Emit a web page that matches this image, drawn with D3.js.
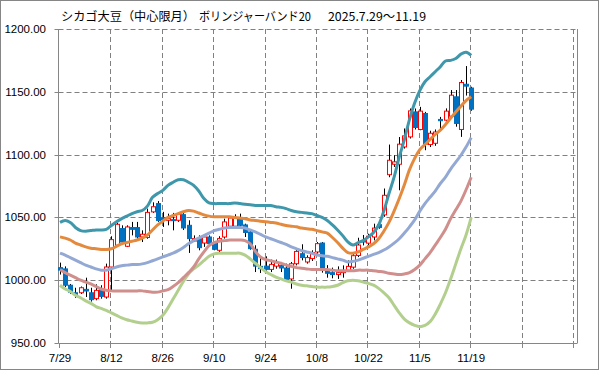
<!DOCTYPE html>
<meta charset="utf-8">
<script src="https://d3js.org/d3.v7.min.js"></script>
<style>
body { margin: 0; background: #fff; }
text { font-family: "Liberation Sans", Arial, sans-serif; fill: #000; }
.title { font-family: "Noto Sans CJK JP", sans-serif; font-size: 12px; }
.grid { stroke: #808080; stroke-dasharray: 5,3; stroke-width: 1; }
</style>
<body>
<svg id="chart" width="599" height="370"></svg>
<script>
// tick labels every 10 trading days (last two gridlines unlabeled)
var tickLabels = ["7/29", "8/12", "8/26", "9/10", "9/24", "10/8", "10/22", "11/5", "11/19", "", ""];
var yTicks = [950, 1000, 1050, 1100, 1150, 1200];

// daily prices, 7/29 .. 11/19 (81 sessions)
var priceOpen = [1010, 1009, 996, 990, 990, 992.7, 990, 985.3, 992.7, 986.6,
  1010.5, 1027.8, 1041.1, 1027, 1041.9, 1041.9, 1034.4, 1034, 1054.4, 1061,
  1049.8, 1047.7, 1048.2, 1047.7, 1052.2, 1043.7, 1031.2, 1033.1, 1029.6, 1034.4,
  1029.1, 1023.8, 1034.4, 1043, 1043, 1049.6, 1044, 1038.4, 1024.6, 1011,
  1011.2, 1008.6, 1011.2, 1011.8, 1009.7, 1001, 1013.1, 1021.1, 1014.5, 1017.2,
  1022.5, 1029.6, 1007, 1006, 1004.5, 1006, 1007.8, 1010.4, 1019.7, 1031.7,
  1029.5, 1034.4, 1044.2, 1052, 1084, 1092.3, 1092.3, 1106.1, 1114.1, 1134,
  1120, 1132.7, 1108, 1109, 1128, 1127.4, 1130.6, 1146, 1120, 1156, 1153];
var priceHigh = [1014, 1011, 997, 994, 995, 1002, 994, 996.7, 996, 1013.2,
  1035, 1045.6, 1043.7, 1043.7, 1046.4, 1046.4, 1039.7, 1057, 1062, 1063,
  1054.4, 1053, 1053.6, 1053.6, 1053.6, 1047.7, 1035.7, 1035.7, 1035.7, 1035.7,
  1031.2, 1035, 1049, 1051, 1052.5, 1053, 1045, 1039.7, 1027.8, 1019,
  1019, 1016.4, 1016.4, 1014.5, 1013.2, 1014.5, 1024.3, 1028.6, 1019.8, 1023.8,
  1030.4, 1030.4, 1012, 1010, 1011, 1011.8, 1015.8, 1022.4, 1033.8, 1036,
  1037, 1045, 1045.5, 1073, 1108, 1099.5, 1114, 1120.8, 1136.7, 1136.7,
  1138, 1134, 1119, 1120, 1130, 1136.8, 1151.4, 1151.4, 1159.4, 1170.5, 1154];
var priceLow = [1004.5, 994.5, 989, 986, 989, 986.6, 983, 984, 985.3, 985.3,
  992, 1027, 1029, 1026.4, 1035.7, 1033.1, 1030.4, 1033, 1053.6, 1046.4,
  1042.4, 1043.7, 1039.7, 1046.4, 1040, 1021.7, 1030.4, 1023.8, 1026.5, 1027.8,
  1023.8, 1022.5, 1033.1, 1041.9, 1041.9, 1041.9, 1034.4, 1024.3, 1006.5, 1005.7,
  1006.5, 1006.5, 1009.2, 1006.5, 999.9, 993.2, 1011.8, 1015.8, 1013.2, 1015.3,
  1021.1, 1006, 1002, 1001.5, 1001, 1002, 1006.5, 1009.1, 1018.4, 1027.7,
  1027.7, 1031.7, 1041, 1050.5, 1082, 1090.2, 1071.6, 1104.8, 1112.8, 1120,
  1119.4, 1103.5, 1106, 1107, 1119.5, 1126.2, 1130, 1122.2, 1114.1, 1147, 1134.9];
var priceClose = [1008, 996, 990.5, 988.7, 994, 991.4, 984.5, 991.9, 987.1, 1010.5,
  1032.3, 1044.5, 1030.4, 1042.4, 1040.5, 1034.4, 1036.6, 1054, 1058.5, 1047.5,
  1048.2, 1049, 1047.7, 1052.5, 1041.6, 1033.1, 1033.1, 1025.9, 1034.4, 1029.1,
  1024.6, 1033.1, 1046.4, 1049.5, 1049.8, 1043.7, 1038, 1025.1, 1011.2, 1009.2,
  1008.6, 1012.6, 1013.9, 1009.7, 1000.6, 1013.1, 1022.9, 1018, 1018, 1022,
  1029.1, 1008, 1005.5, 1004.5, 1006, 1007, 1011, 1019.5, 1028, 1030.4,
  1035, 1041.5, 1042, 1067.6, 1095.5, 1094.2, 1108.3, 1114.9, 1134.8, 1121.6,
  1134.6, 1108.3, 1117, 1118, 1127, 1134.6, 1147.3, 1124.8, 1157.4, 1154.5, 1136.2];

// bollinger band lines
var bandUpper2 = [1046, 1047.5, 1046, 1042, 1039.5, 1039, 1039.5, 1040, 1040, 1040.5,
  1043.5, 1046.5, 1049, 1051, 1053, 1054.5, 1055.5, 1059, 1066, 1069,
  1071.5, 1075.5, 1078, 1080, 1080, 1078, 1075.5, 1071, 1065, 1061.5,
  1061, 1061, 1061, 1061, 1061.5, 1061, 1060.5, 1060, 1059.5, 1059.5,
  1059.5, 1059.5, 1058.5, 1058, 1057, 1055.5, 1054.5, 1054, 1053.5, 1053,
  1051.5, 1050, 1047.5, 1044, 1040, 1035.5, 1030.5, 1028, 1030, 1031.5,
  1034.5, 1038, 1044, 1055, 1069, 1082, 1098, 1112, 1128, 1141,
  1151, 1158, 1162, 1166, 1170, 1174.5, 1175, 1176.5, 1180, 1181.5, 1179];
var bandUpper1 = [1034.5, 1033.5, 1032, 1029.5, 1028, 1026.5, 1025.5, 1025, 1024.5, 1024.5,
  1025, 1027, 1029, 1030, 1031, 1032, 1033.5, 1036, 1040, 1044,
  1047, 1050, 1051.5, 1053, 1054.5, 1055.5, 1055, 1053.5, 1052, 1051,
  1050.5, 1050.5, 1050.5, 1050.5, 1050, 1049.5, 1049, 1048, 1047.5, 1047,
  1046.5, 1046, 1045.5, 1044.5, 1043.5, 1043, 1042.5, 1041.5, 1041, 1040.5,
  1039.5, 1038.5, 1037.5, 1034, 1030, 1025.5, 1022, 1021.5, 1022.5, 1024.5,
  1026.5, 1029, 1033, 1039, 1046, 1055, 1065, 1076, 1088, 1097,
  1104, 1108, 1112, 1116, 1119.5, 1124, 1129, 1134, 1138.5, 1143, 1146];
var bandMid = [1021.5, 1020, 1018, 1016, 1014, 1012, 1010.5, 1009, 1008, 1008,
  1009, 1010.5, 1011.5, 1012, 1012.5, 1012.5, 1013, 1014, 1015.5, 1017,
  1018.5, 1020, 1021.5, 1023.5, 1026, 1029, 1031.5, 1033.5, 1035.5, 1037.5,
  1039.5, 1040.5, 1041.5, 1042, 1042, 1042, 1041.5, 1040, 1038.5, 1036.5,
  1034.5, 1033, 1031.5, 1030, 1028.5, 1026.5, 1025, 1023.5, 1022.5, 1021.5,
  1020, 1019.5, 1019, 1018, 1017, 1016, 1014.5, 1015, 1016, 1017.5,
  1019, 1020.5, 1022, 1024, 1026.5, 1029.5, 1033, 1037.5, 1042.5, 1048,
  1055, 1061, 1066, 1071, 1077, 1082, 1088.5, 1094, 1099.5, 1106, 1113.5];
var bandLower1 = [1008.5, 1006, 1004, 1002, 1000, 998.5, 997, 995, 993, 992,
  991.5, 991.5, 991.5, 991.5, 991.5, 991.5, 991.5, 991, 990.5, 990.5,
  991.5, 992.5, 995, 998, 1002, 1006, 1010.5, 1017, 1022.5, 1027.5,
  1030, 1031, 1031.5, 1032, 1032, 1032, 1031.5, 1029, 1023, 1018.5,
  1016.5, 1015.5, 1014.5, 1013.5, 1012, 1011, 1010, 1009.5, 1009, 1008.5,
  1008.5, 1008.5, 1008.5, 1008, 1007.5, 1007.5, 1007.5, 1007.5, 1008, 1008,
  1008, 1007.5, 1007, 1006.5, 1005.5, 1005, 1004.5, 1005, 1006, 1008.5,
  1012, 1017, 1022, 1028, 1034, 1040.5, 1049, 1056, 1063, 1072, 1082];
var bandLower2 = [996, 993, 991, 988, 986, 983.5, 981.5, 979, 977.5, 976,
  974, 972, 970, 968.5, 967.5, 966.5, 966, 966, 966.5, 968.5,
  972, 978, 985, 992, 999, 1005, 1009, 1012, 1015.5, 1019,
  1021, 1021.5, 1021.5, 1021.5, 1021.5, 1021.5, 1020, 1017, 1013.5, 1010,
  1007, 1004.5, 1002.5, 1001, 999.5, 998.5, 997, 996, 995.5, 995,
  994.5, 994.5, 994.5, 995, 996, 998, 999.5, 1000, 999.5, 998.5,
  997.5, 996, 993.5, 990, 986, 980, 974, 969, 966, 964,
  963, 964, 967, 973, 981, 990, 1001, 1013, 1025, 1036, 1050];

var bands = [
  {name: "lower2", values: bandLower2, color: "#b3cf8e"},
  {name: "lower1", values: bandLower1, color: "#d08f8c"},
  {name: "mid", values: bandMid, color: "#93a9d4"},
  {name: "upper1", values: bandUpper1, color: "#e48a3e"},
  {name: "upper2", values: bandUpper2, color: "#3f97ab"}
];

var svg = d3.select("#chart");
var plotLeft = 58.5, plotRight = 577, plotTop = 29, plotBottom = 343;

var x = d3.scaleLinear().domain([0, 100]).range([60, 574]);
var y = d3.scaleLinear().domain([950, 1200]).range([plotBottom, plotTop]);

// outer frame
svg.append("rect")
    .attr("x", 0.5).attr("y", 0.5)
    .attr("width", 598).attr("height", 369)
    .attr("fill", "#fff").attr("stroke", "#868686");

// title
svg.append("text").attr("class", "title")
    .attr("x", 61).attr("y", 21)
    .attr("textLength", 134).attr("lengthAdjust", "spacingAndGlyphs")
    .text("シカゴ大豆（中心限月）");
svg.append("text").attr("class", "title")
    .attr("x", 199).attr("y", 21)
    .attr("textLength", 112).attr("lengthAdjust", "spacingAndGlyphs")
    .text("ボリンジャーバンド20");
svg.append("text").attr("class", "title")
    .attr("x", 328).attr("y", 21)
    .attr("textLength", 98).attr("lengthAdjust", "spacingAndGlyphs")
    .text("2025.7.29～11.19");

// horizontal gridlines
svg.selectAll(".hgrid")
    .data(yTicks.filter(function(d) { return d > 950; }))
  .enter().append("line")
    .attr("class", "grid")
    .attr("x1", plotLeft).attr("x2", plotRight)
    .attr("y1", function(d) { return Math.round(y(d)) + 0.5; })
    .attr("y2", function(d) { return Math.round(y(d)) + 0.5; });

// vertical gridlines
svg.selectAll(".vgrid")
    .data(tickLabels.slice(1))
  .enter().append("line")
    .attr("class", "grid")
    .attr("x1", function(d, i) { return Math.round(x((i + 1) * 10)) - 0.5; })
    .attr("x2", function(d, i) { return Math.round(x((i + 1) * 10)) - 0.5; })
    .attr("y1", plotTop).attr("y2", plotBottom);

// axes lines
svg.append("line")
    .attr("x1", plotLeft).attr("x2", plotLeft).attr("y1", plotTop).attr("y2", plotBottom + 0.5)
    .attr("stroke", "#868686");
svg.append("line")
    .attr("x1", plotLeft).attr("x2", plotRight).attr("y1", plotBottom + 0.5).attr("y2", plotBottom + 0.5)
    .attr("stroke", "#868686");
svg.append("line")
    .attr("x1", plotRight + 0.5).attr("x2", plotRight + 0.5).attr("y1", plotTop).attr("y2", plotBottom + 0.5)
    .attr("stroke", "#868686");

// y ticks + labels
svg.selectAll(".ytick")
    .data(yTicks)
  .enter().append("line")
    .attr("x1", plotLeft - 4).attr("x2", plotLeft)
    .attr("y1", function(d) { return Math.round(y(d)) + 0.5; })
    .attr("y2", function(d) { return Math.round(y(d)) + 0.5; })
    .attr("stroke", "#868686");
svg.selectAll(".ylab")
    .data(yTicks)
  .enter().append("text")
    .attr("x", 46)
    .attr("y", function(d) { return y(d) + 4; })
    .attr("text-anchor", "end")
    .style("font-size", "11.5px")
    .text(function(d) { return d3.format(".2f")(d); });

// x ticks + labels
svg.selectAll(".xtick")
    .data(tickLabels)
  .enter().append("line")
    .attr("x1", function(d, i) { return Math.round(x(i * 10)) - 0.5; })
    .attr("x2", function(d, i) { return Math.round(x(i * 10)) - 0.5; })
    .attr("y1", plotBottom).attr("y2", plotBottom + 5)
    .attr("stroke", "#868686");
svg.selectAll(".xlab")
    .data(tickLabels)
  .enter().append("text")
    .attr("x", function(d, i) { return x(i * 10); })
    .attr("y", 362)
    .attr("text-anchor", "middle")
    .style("font-size", "11.5px")
    .text(function(d) { return d; });

// candles
var days = d3.range(priceOpen.length);
var bodyW = 4;

svg.selectAll(".wick")
    .data(days)
  .enter().append("line")
    .attr("x1", function(i) { return Math.round(x(i)) + 0.5; })
    .attr("x2", function(i) { return Math.round(x(i)) + 0.5; })
    .attr("y1", function(i) { return y(priceHigh[i]); })
    .attr("y2", function(i) { return y(priceLow[i]); })
    .attr("stroke", "#000").attr("stroke-width", 1);

svg.selectAll(".body")
    .data(days)
  .enter().append("rect")
    .attr("x", function(i) { return Math.round(x(i)) - bodyW / 2 + 0.5; })
    .attr("y", function(i) { return y(Math.max(priceOpen[i], priceClose[i])); })
    .attr("width", bodyW)
    .attr("height", function(i) {
      return Math.max(1, Math.abs(y(priceOpen[i]) - y(priceClose[i])));
    })
    .attr("fill", function(i) { return priceClose[i] >= priceOpen[i] ? "#fff" : "#0070c0"; })
    .attr("stroke", function(i) { return priceClose[i] >= priceOpen[i] ? "#ff0000" : "#0070c0"; })
    .attr("stroke-width", 1);

// band lines
var line = d3.line()
    .x(function(d, i) { return x(i); })
    .y(function(d) { return y(d); })
    .curve(d3.curveCatmullRom);

svg.selectAll(".band")
    .data(bands)
  .enter().append("path")
    .attr("d", function(d) { return line(d.values); })
    .attr("fill", "none")
    .attr("stroke", function(d) { return d.color; })
    .attr("stroke-width", 3)
    .attr("stroke-linejoin", "round");
</script>
</body>
